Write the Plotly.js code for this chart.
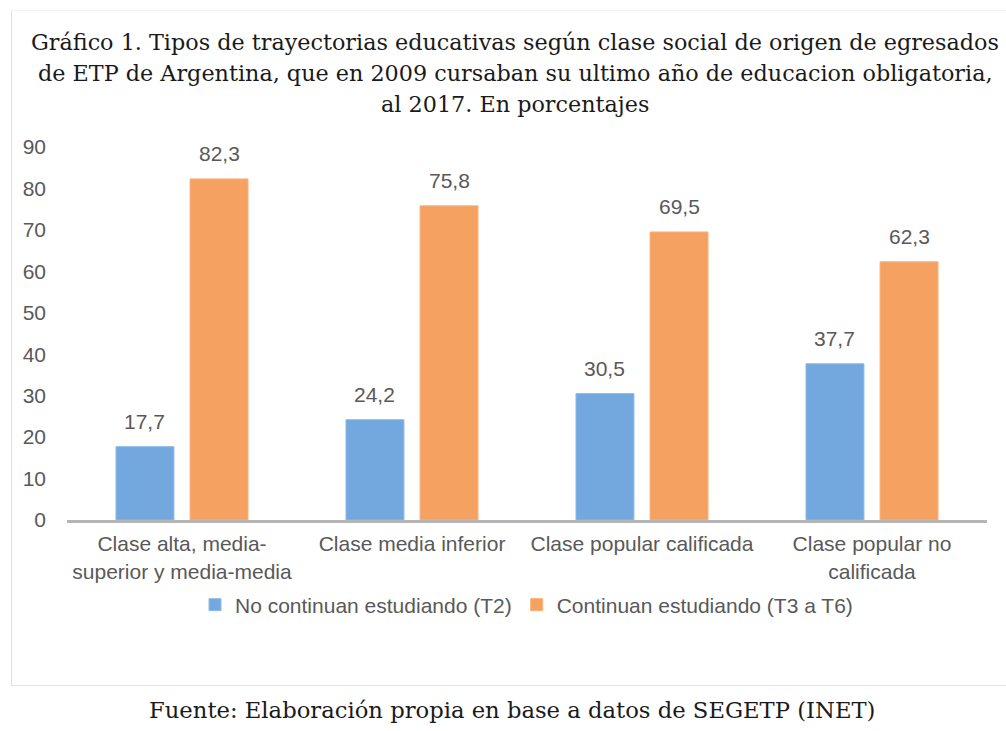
<!DOCTYPE html>
<html>
<head>
<meta charset="utf-8">
<script src="https://cdn.plot.ly/plotly-3.0.1.min.js"></script>
<style>
html,body{margin:0;padding:0;background:#fff;overflow:hidden;}
#wrap{position:relative;width:1006px;height:731px;overflow:hidden;}
#frame{position:absolute;left:11px;top:10px;width:1010px;height:676px;border:1px solid #e2e2e2;border-top-color:#f3f3f3;box-sizing:border-box;}
#chart{position:absolute;left:0;top:0;width:1006px;height:731px;}
</style>
</head>
<body>
<div id="wrap"><div id="frame"></div><div id="chart"></div></div>
<script>
const categories = [
  "Clase alta, media-<br>superior y media-media",
  "Clase media inferior",
  "Clase popular calificada",
  "Clase popular no<br>calificada"
];
const seriesNames = ["No continuan estudiando (T2)", "Continuan estudiando (T3 a T6)"];
const noContinuan = [17.7, 24.2, 30.5, 37.7];
const continuan = [82.3, 75.8, 69.5, 62.3];
const yTicks = [0, 10, 20, 30, 40, 50, 60, 70, 80, 90];
const titleLines = [
  "Gráfico 1. Tipos de trayectorias educativas según clase social de origen de egresados",
  "de ETP de Argentina, que en 2009 cursaban su ultimo año de educacion obligatoria,",
  "al 2017. En porcentajes"
];
const sourceText = "Fuente: Elaboración propia en base a datos de SEGETP (INET)";

const sans = "Liberation Sans, Arial, sans-serif";
const serif = "DejaVu Serif, Liberation Serif, serif";
const gray = "#595959";
const barW = 0.252, offs = [-0.287, 0.035];
const colors = ["#72a8de", "#f4a161"];
const series = [noContinuan, continuan];

const traces = series.map((vals, k) => ({
  type:"bar", name:seriesNames[k], x:categories, y:vals,
  width:barW, offset:offs[k],
  marker:{color:colors[k], line:{color:k ? "#f7b27c" : "#8fbbe6", width:1}},
  hoverinfo:"skip"
}));

const annotations = titleLines.map((t,i)=>({
  text:t, xref:"paper", yref:"paper", x:(515-67)/920, y:1 + (147 - (42 + i*31)) / 373,
  xanchor:"center", yanchor:"middle", showarrow:false,
  font:{family:serif, size:22.3, color:"#1a1a1a"}
}));
annotations.push({
  text:sourceText, xref:"paper", yref:"paper", x:(512-67)/920, y:-(710-520)/373,
  xanchor:"center", yanchor:"middle", showarrow:false,
  font:{family:serif, size:22.7, color:"#1a1a1a"}
});
series.forEach((vals, k) => {
  vals.forEach((v, i) => {
    annotations.push({
      text:v.toFixed(1).replace(".", ","), x:i + offs[k] + barW/2, y:v,
      xref:"x", yref:"y", xanchor:"center", yanchor:"bottom", yshift:12,
      showarrow:false, font:{family:sans, size:21, color:gray}
    });
  });
});

const layout = {
  width:1006, height:731,
  margin:{l:67, r:19, t:147, b:211},
  paper_bgcolor:"rgba(0,0,0,0)", plot_bgcolor:"rgba(0,0,0,0)",
  separators:",.",
  barmode:"group",
  showlegend:true,
  legend:{orientation:"h", x:(238-43-67)/920, xanchor:"left", y:-(605-520)/373, yanchor:"middle",
          font:{family:sans, size:21, color:gray}, itemwidth:30, traceorder:"normal"},
  xaxis:{type:"category", range:[-0.5, 3.5], showline:true, linecolor:"#b5b5b5", linewidth:3,
         tickfont:{family:sans, size:21, color:gray}, ticks:"", showgrid:false, ticklabelstandoff:3},
  yaxis:{range:[0,90], tickvals:yTicks, showgrid:false, zeroline:false, showline:false,
         tickfont:{family:sans, size:21, color:gray}, ticklabelstandoff:20},
  annotations:annotations
};
Plotly.newPlot("chart", traces, layout, {displayModeBar:false, staticPlot:true});
</script>
</body>
</html>
